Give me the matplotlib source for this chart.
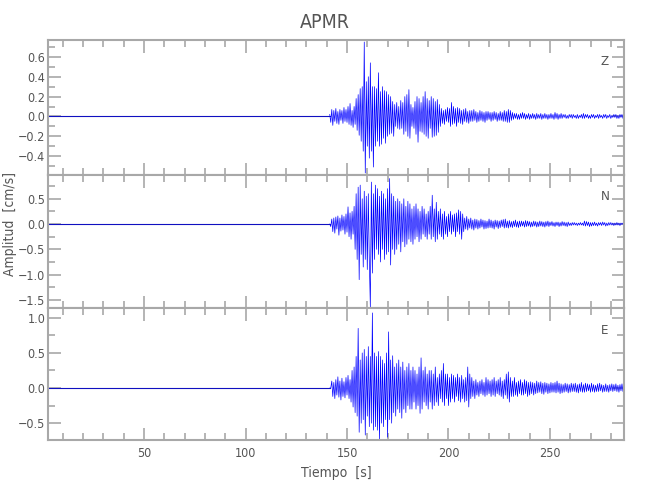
import numpy as np
import matplotlib
matplotlib.use('Agg')
import matplotlib.pyplot as plt
from matplotlib.ticker import MultipleLocator

plt.rcParams['font.family'] = ['DejaVu Sans']
plt.rcParams['font.stretch'] = 'condensed'

# Datos: muestras cada 0.5 s a partir de t0
estacion = 'APMR'
componentes = ['Z', 'N', 'E']
t_inicio = 2.7
t0 = 141.5
dt = 0.5

vel_z = [
    0.02, -0.06, 0.07, -0.09, 0.06, -0.05, 0.08, -0.07, 0.05, -0.08, 0.07, -0.04, 0.06, -0.07, 0.09, -0.05, 0.07, -0.06, 0.10, -0.08,
    0.13, -0.09, 0.06, -0.11, 0.10, -0.08, 0.18, -0.14, 0.22, -0.19, 0.28, -0.25, 0.30, -0.35, 0.75, -0.57, 0.35, -0.30, 0.40, -0.42,
    0.54, -0.35, 0.30, -0.51, 0.30, -0.30, 0.28, -0.25, 0.44, -0.30, 0.25, -0.28, 0.30, -0.22, 0.26, -0.27, 0.25, -0.20, 0.22, -0.18,
    0.20, -0.17, 0.15, -0.20, 0.12, -0.10, 0.14, -0.12, 0.10, -0.13, 0.16, -0.12, 0.14, -0.18, 0.20, -0.15, 0.22, -0.20, 0.27, -0.22,
    0.12, -0.10, 0.09, -0.12, 0.15, -0.18, 0.20, -0.26, 0.18, -0.15, 0.14, -0.16, 0.20, -0.18, 0.25, -0.20, 0.18, -0.22, 0.16, -0.12,
    0.20, -0.21, 0.18, -0.20, 0.15, -0.19, 0.17, -0.16, 0.12, -0.10, 0.08, -0.07, 0.06, -0.08, 0.07, -0.05, 0.09, -0.06, 0.08, -0.10,
    0.14, -0.08, 0.10, -0.07, 0.08, -0.10, 0.09, -0.06, 0.08, -0.07, 0.06, -0.08, 0.07, -0.05, 0.08, -0.06, 0.05, -0.07, 0.06, -0.05,
    0.06, -0.05, 0.07, -0.04, 0.05, -0.06, 0.04, -0.05, 0.06, -0.04, 0.05, -0.05, 0.04, -0.06, 0.05, -0.04, 0.05, -0.03, 0.04, -0.05,
    0.04, -0.04, 0.05, -0.03, 0.04, -0.05, 0.03, -0.04, 0.05, -0.04, 0.04, -0.05, 0.06, -0.05, 0.05, -0.06, 0.07, -0.06, 0.06, -0.04,
    0.04, -0.03, 0.03, -0.02, 0.03, -0.03, 0.02, -0.03, 0.03, -0.02, 0.04, -0.02, 0.03, -0.03, 0.02, -0.02, 0.03, -0.03, 0.02, -0.02,
    0.03, -0.02, 0.02, -0.03, 0.03, -0.02, 0.02, -0.02, 0.03, -0.03, 0.02, -0.02, 0.03, -0.02, 0.02, -0.03, 0.02, -0.02, 0.03, -0.02,
    0.02, -0.03, 0.04, -0.02, 0.03, -0.03, 0.02, -0.02, 0.03, -0.02, 0.02, -0.01, 0.02, -0.02, 0.01, -0.02, 0.02, -0.01, 0.02, -0.02,
    0.02, -0.01, 0.01, -0.02, 0.02, -0.02, 0.01, -0.01, 0.02, -0.02, 0.03, -0.02, 0.02, -0.01, 0.02, -0.02, 0.01, -0.02, 0.02, -0.01,
    0.02, -0.02, 0.01, -0.01, 0.02, -0.02, 0.02, -0.01, 0.01, -0.02, 0.02, -0.01, 0.02, -0.02, 0.01, -0.01, 0.02, -0.02, 0.01, -0.01,
    0.02, -0.01, 0.02, -0.02, 0.01, -0.02, 0.02, -0.01, 0.02, -0.02, 0.01,
]

vel_n = [
    0.00, -0.05, 0.10, -0.15, 0.12, -0.18, 0.14, -0.10, 0.16, -0.22, 0.12, -0.14, 0.18, -0.12, 0.15, -0.20, 0.20, -0.16, 0.34, -0.25,
    0.22, -0.30, 0.25, -0.20, 0.35, -0.50, 0.60, -0.70, 0.73, -1.10, 0.77, -0.60, 0.50, -0.85, 0.65, -0.70, 0.55, -0.90, 0.60, -0.75,
    -1.64, 0.83, -0.97, 0.60, -0.70, 0.77, -0.50, 0.70, -0.60, 0.55, -0.75, 0.65, -0.50, 0.60, -0.70, 0.50, -0.60, 0.70, -0.55, 0.90,
    -0.81, 0.60, -0.50, 0.55, -0.60, 0.45, -0.50, 0.50, -0.40, 0.45, -0.55, 0.40, -0.35, 0.50, -0.45, 0.35, -0.40, 0.45, -0.30, 0.40,
    -0.35, 0.30, -0.40, 0.35, -0.30, 0.40, -0.25, 0.30, -0.35, 0.25, -0.30, 0.35, -0.20, 0.30, -0.25, 0.20, -0.30, 0.25, -0.20, 0.35,
    -0.30, 0.57, -0.25, 0.30, -0.35, 0.43, -0.30, 0.25, -0.20, 0.30, -0.25, 0.20, -0.30, 0.25, -0.20, 0.15, -0.25, 0.20, -0.15, 0.25,
    -0.20, 0.18, -0.15, 0.20, -0.25, 0.22, -0.15, 0.28, -0.20, 0.25, -0.30, 0.20, -0.15, 0.12, -0.10, 0.15, -0.12, 0.10, -0.08, 0.12,
    -0.10, 0.08, -0.12, 0.10, -0.08, 0.09, -0.10, 0.07, -0.08, 0.10, -0.06, 0.08, -0.10, 0.07, -0.09, 0.06, -0.08, 0.10, -0.07, 0.08,
    -0.08, 0.06, -0.10, 0.08, -0.06, 0.07, -0.09, 0.06, -0.07, 0.08, -0.05, 0.09, -0.08, 0.10, -0.07, 0.06, -0.08, 0.07, -0.06, 0.05,
    -0.07, 0.06, -0.05, 0.08, -0.06, 0.05, -0.07, 0.06, -0.05, 0.06, -0.04, 0.05, -0.06, 0.07, -0.05, 0.06, -0.04, 0.05, -0.06, 0.04,
    -0.05, 0.06, -0.04, 0.05, -0.06, 0.04, -0.05, 0.06, -0.04, 0.05, -0.05, 0.04, -0.06, 0.05, -0.04, 0.06, -0.05, 0.04, -0.03, 0.05,
    -0.04, 0.03, -0.05, 0.04, -0.03, 0.04, -0.05, 0.03, -0.04, 0.05, -0.03, 0.04, -0.04, 0.03, -0.05, 0.04, -0.03, 0.02, -0.03, 0.03,
    -0.02, 0.03, -0.02, 0.02, -0.03, 0.02, -0.02, 0.03, -0.02, 0.02, -0.03, 0.06, -0.04, 0.05, -0.03, 0.04, -0.05, 0.03, -0.04, 0.03,
    -0.03, 0.04, -0.03, 0.02, -0.04, 0.03, -0.02, 0.03, -0.03, 0.04, -0.02, 0.03, -0.04, 0.02, -0.03, 0.03, -0.02, 0.03, -0.02, 0.02,
    -0.03, 0.02, -0.02, 0.03, -0.02, 0.02, -0.03, 0.02, -0.01, 0.02, 0.00,
]

vel_e = [
    0.00, 0.00, 0.10, -0.12, 0.08, -0.15, 0.12, -0.10, 0.16, -0.13, 0.10, -0.17, 0.14, -0.12, 0.09, -0.14, 0.15, -0.10, 0.18, -0.15,
    0.12, -0.20, 0.25, -0.27, 0.30, -0.35, 0.45, -0.40, 0.85, -0.63, 0.40, -0.50, 0.50, -0.45, 0.55, -0.67, 0.45, -0.40, 0.59, -0.55,
    0.45, -0.50, 1.07, -0.60, 0.50, -0.55, 0.45, -0.60, 0.52, -0.74, 0.45, -0.50, 0.40, -0.55, 0.35, -0.45, 0.50, -0.70, 0.80, -0.45,
    0.40, -0.50, 0.46, -0.35, 0.30, -0.40, 0.35, -0.30, 0.40, -0.35, 0.30, -0.43, 0.37, -0.30, 0.25, -0.35, 0.30, -0.25, 0.35, -0.30,
    0.25, -0.30, 0.30, -0.20, 0.25, -0.30, 0.20, -0.25, 0.30, -0.36, 0.43, -0.30, 0.25, -0.20, 0.30, -0.25, 0.20, -0.30, 0.25, -0.20,
    0.25, -0.30, 0.20, -0.25, 0.30, -0.20, 0.15, -0.25, 0.20, -0.15, 0.25, -0.20, 0.35, -0.25, 0.20, -0.15, 0.20, -0.25, 0.15, -0.20,
    0.20, -0.15, 0.18, -0.20, 0.15, -0.12, 0.20, -0.18, 0.15, -0.20, 0.18, -0.15, 0.12, -0.20, 0.15, -0.18, 0.30, -0.27, 0.20, -0.15,
    0.15, -0.12, 0.10, -0.15, 0.12, -0.10, 0.08, -0.12, 0.10, -0.08, 0.12, -0.10, 0.08, -0.12, 0.15, -0.10, 0.12, -0.08, 0.10, -0.12,
    0.12, -0.10, 0.15, -0.12, 0.10, -0.08, 0.12, -0.10, 0.15, -0.12, 0.10, -0.15, 0.12, -0.10, 0.20, -0.15, 0.23, -0.20, 0.15, -0.12,
    0.10, -0.12, 0.15, -0.10, 0.08, -0.12, 0.10, -0.08, 0.12, -0.10, 0.08, -0.10, 0.12, -0.08, 0.10, -0.12, 0.08, -0.10, 0.09, -0.08,
    0.08, -0.10, 0.07, -0.08, 0.10, -0.07, 0.08, -0.06, 0.09, -0.08, 0.07, -0.09, 0.08, -0.06, 0.07, -0.08, 0.06, -0.07, 0.08, -0.06,
    0.07, -0.06, 0.08, -0.07, 0.10, -0.06, 0.07, -0.08, 0.06, -0.07, 0.05, -0.06, 0.07, -0.05, 0.06, -0.07, 0.05, -0.06, 0.07, -0.05,
    0.06, -0.05, 0.07, -0.06, 0.05, -0.07, 0.06, -0.05, 0.08, -0.06, 0.05, -0.06, 0.07, -0.05, 0.06, -0.04, 0.05, -0.06, 0.07, -0.05,
    0.05, -0.06, 0.04, -0.05, 0.06, -0.05, 0.07, -0.04, 0.05, -0.06, 0.04, -0.05, 0.06, -0.05, 0.04, -0.06, 0.05, -0.04, 0.06, -0.05,
    0.05, -0.04, 0.06, -0.05, 0.04, -0.06, 0.05, -0.04, 0.06, -0.05, 0.04,
]

trazas = [vel_z, vel_n, vel_e]
limites_y = [(-0.59, 0.77), (-1.66, 0.97), (-0.74, 1.14)]
pasos_y = [(0.2, 0.1), (0.5, 0.25), (0.5, 0.25)]
# posiciones de los paneles [izq, abajo, ancho, alto] en fraccion de figura
posiciones = [[0.074, 0.650, 0.886, 0.270],
              [0.074, 0.384, 0.886, 0.266],
              [0.074, 0.120, 0.886, 0.264]]
etiq_y = [0.844, 0.835, 0.826]

gris = '#a8a8a8'
gris_txt = '#555555'

fig = plt.figure(figsize=(6.5, 5), dpi=100)

for i, (comp, vel) in enumerate(zip(componentes, trazas)):
    ax = fig.add_axes(posiciones[i])
    t = t0 + dt * np.arange(len(vel))
    # tramo previo al evento, practicamente plano
    ax.plot([t_inicio, t0], [0, 0], color='#1010c0', lw=0.8)
    ax.plot(t, vel, color='#0000ff', lw=0.5)
    ax.set_xlim(t_inicio, t[-1])
    ax.set_ylim(*limites_y[i])

    ax.xaxis.set_major_locator(MultipleLocator(50))
    ax.xaxis.set_minor_locator(MultipleLocator(10))
    ax.yaxis.set_major_locator(MultipleLocator(pasos_y[i][0]))
    ax.yaxis.set_minor_locator(MultipleLocator(pasos_y[i][1]))
    ax.tick_params(which='both', direction='in', top=True, right=True,
                   color=gris, labelcolor=gris_txt, labelsize=9, width=1.2,
                   pad=2)
    ax.tick_params(which='major', length=9)
    ax.tick_params(which='minor', length=5)
    ax.yaxis.set_major_formatter(plt.FuncFormatter(
        lambda v, p: ('%.1f' % v).replace('-', '\u2212')))
    for s in ax.spines.values():
        s.set_color(gris)
        s.set_linewidth(1.5)
    if i < 2:
        ax.tick_params(labelbottom=False)
    else:
        ax.tick_params(axis='x', pad=5)
        ax.set_xlabel('Tiempo  [s]', color=gris_txt, fontsize=10,
                      labelpad=4)
    ax.text(0.967, etiq_y[i], comp, transform=ax.transAxes, ha='center',
            va='center', color=gris_txt, fontsize=9.5)

fig.text(0.5, 0.955, estacion, ha='center', va='center', color=gris_txt,
         fontsize=14)
fig.text(0.016, 0.552, 'Amplitud  [cm/s]', rotation=90, ha='center',
         va='center', color=gris_txt, fontsize=10)

fig.savefig('out.png', dpi=100)
